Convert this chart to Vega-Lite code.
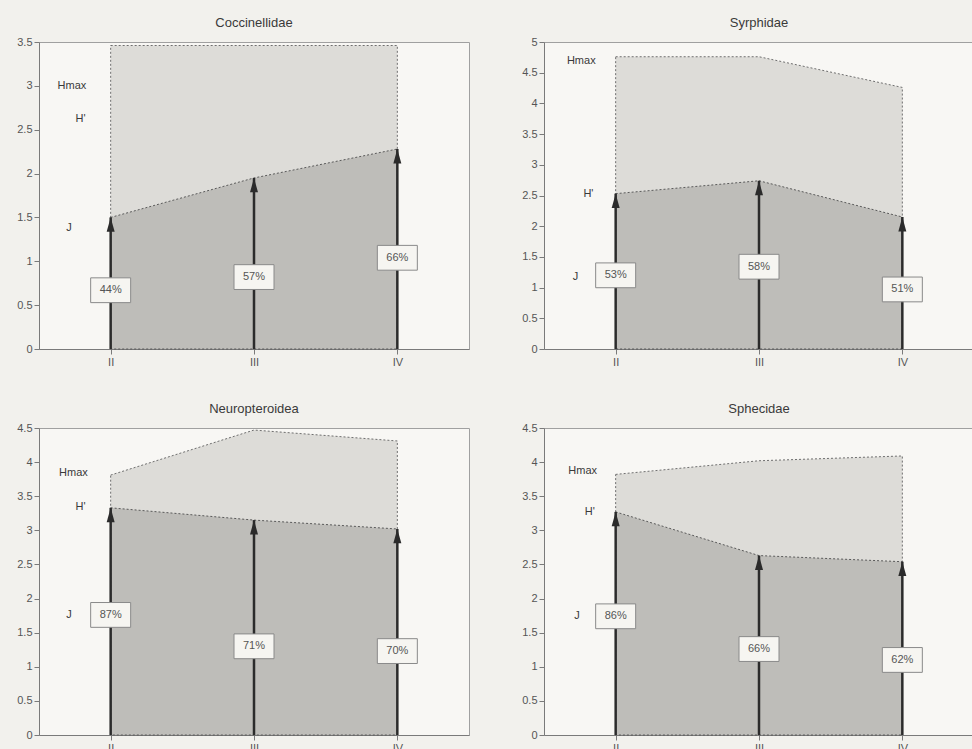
{
  "$schema": "https://vega.github.io/schema/vega-lite/v6.json",
  "background": "#f2f1ed",
  "padding": {"left": 16, "top": 16, "right": 0, "bottom": 0},
  "data": {"values": [
    {"kind": "p", "panel": "Coccinellidae", "x": 2, "hmax": 3.46, "h": 1.50, "jy": 0.67, "jl": "44%"},
    {"kind": "p", "panel": "Coccinellidae", "x": 3, "hmax": 3.46, "h": 1.95, "jy": 0.82, "jl": "57%"},
    {"kind": "p", "panel": "Coccinellidae", "x": 4, "hmax": 3.46, "h": 2.28, "jy": 1.04, "jl": "66%"},
    {"kind": "p", "panel": "Syrphidae", "x": 2, "hmax": 4.76, "h": 2.53, "jy": 1.20, "jl": "53%"},
    {"kind": "p", "panel": "Syrphidae", "x": 3, "hmax": 4.76, "h": 2.74, "jy": 1.34, "jl": "58%"},
    {"kind": "p", "panel": "Syrphidae", "x": 4, "hmax": 4.26, "h": 2.15, "jy": 0.97, "jl": "51%"},
    {"kind": "p", "panel": "Neuropteroidea", "x": 2, "hmax": 3.81, "h": 3.33, "jy": 1.76, "jl": "87%"},
    {"kind": "p", "panel": "Neuropteroidea", "x": 3, "hmax": 4.47, "h": 3.15, "jy": 1.30, "jl": "71%"},
    {"kind": "p", "panel": "Neuropteroidea", "x": 4, "hmax": 4.31, "h": 3.02, "jy": 1.23, "jl": "70%"},
    {"kind": "p", "panel": "Sphecidae", "x": 2, "hmax": 3.82, "h": 3.27, "jy": 1.74, "jl": "86%"},
    {"kind": "p", "panel": "Sphecidae", "x": 3, "hmax": 4.02, "h": 2.63, "jy": 1.26, "jl": "66%"},
    {"kind": "p", "panel": "Sphecidae", "x": 4, "hmax": 4.09, "h": 2.54, "jy": 1.10, "jl": "62%"},
    {"kind": "a", "panel": "Coccinellidae", "ann": "Hmax", "ax": 1.73, "ay": 3.0},
    {"kind": "a", "panel": "Coccinellidae", "ann": "H'", "ax": 1.79, "ay": 2.62},
    {"kind": "a", "panel": "Coccinellidae", "ann": "J", "ax": 1.71, "ay": 1.38},
    {"kind": "a", "panel": "Syrphidae", "ann": "Hmax", "ax": 1.76, "ay": 4.69},
    {"kind": "a", "panel": "Syrphidae", "ann": "H'", "ax": 1.81, "ay": 2.52},
    {"kind": "a", "panel": "Syrphidae", "ann": "J", "ax": 1.72, "ay": 1.18},
    {"kind": "a", "panel": "Neuropteroidea", "ann": "Hmax", "ax": 1.74, "ay": 3.84},
    {"kind": "a", "panel": "Neuropteroidea", "ann": "H'", "ax": 1.79, "ay": 3.34},
    {"kind": "a", "panel": "Neuropteroidea", "ann": "J", "ax": 1.71, "ay": 1.76},
    {"kind": "a", "panel": "Sphecidae", "ann": "Hmax", "ax": 1.77, "ay": 3.87},
    {"kind": "a", "panel": "Sphecidae", "ann": "H'", "ax": 1.82, "ay": 3.27},
    {"kind": "a", "panel": "Sphecidae", "ann": "J", "ax": 1.73, "ay": 1.74}
  ]},
  "facet": {
    "field": "panel",
    "type": "nominal",
    "sort": ["Coccinellidae", "Syrphidae", "Neuropteroidea", "Sphecidae"],
    "header": {"title": null, "labelFontSize": 13, "labelFontWeight": "normal", "labelColor": "#3a3a3a", "labelFont": "Liberation Sans", "labelPadding": 6}
  },
  "columns": 2,
  "spacing": {"row": 34, "column": 51},
  "resolve": {"scale": {"y": "independent"}, "axis": {"x": "independent", "y": "independent"}},
  "spec": {
    "width": 430,
    "height": 307,
    "layer": [
      {
        "transform": [{"filter": "datum.kind === 'p'"}],
        "mark": {"type": "area", "fill": "#dddcd8", "stroke": "#6f6f6f", "strokeWidth": 1, "strokeDash": [2, 2]},
        "encoding": {
          "x": {"field": "x", "type": "quantitative", "title": null,
                "scale": {"domain": [1.5, 4.5], "nice": false, "zero": false},
                "axis": {"values": [2, 3, 4], "labelExpr": "datum.value == 2 ? 'II' : datum.value == 3 ? 'III' : 'IV'"}},
          "y": {"field": "hmax", "type": "quantitative", "title": null,
                "scale": {"zero": true, "nice": true},
                "axis": {"format": "~g"}}
        }
      },
      {
        "transform": [{"filter": "datum.kind === 'p'"}],
        "mark": {"type": "area", "fill": "#bebdb9", "stroke": "#5a5a5a", "strokeWidth": 1, "strokeDash": [2, 2]},
        "encoding": {
          "x": {"field": "x", "type": "quantitative", "title": null},
          "y": {"field": "h", "type": "quantitative", "title": null}
        }
      },
      {
        "transform": [{"filter": "datum.kind === 'p'"}],
        "mark": {"type": "rule", "color": "#2b2b2b", "strokeWidth": 2.5},
        "encoding": {
          "x": {"field": "x", "type": "quantitative", "title": null},
          "y": {"field": "h", "type": "quantitative", "title": null},
          "y2": {"datum": 0}
        }
      },
      {
        "transform": [{"filter": "datum.kind === 'p'"}],
        "mark": {"type": "point", "shape": "M0,0L-0.5,1.8L0.5,1.8Z", "size": 256, "filled": true, "fill": "#2b2b2b", "opacity": 1, "strokeWidth": 0},
        "encoding": {
          "x": {"field": "x", "type": "quantitative", "title": null},
          "y": {"field": "h", "type": "quantitative", "title": null}
        }
      },
      {
        "transform": [{"filter": "datum.kind === 'p'"}],
        "mark": {"type": "point", "shape": "M-1,-0.62L1,-0.62L1,0.62L-1,0.62Z", "size": 1600, "filled": true, "fill": "#f6f5f1", "stroke": "#8a8a8a", "strokeWidth": 1, "opacity": 1},
        "encoding": {
          "x": {"field": "x", "type": "quantitative", "title": null},
          "y": {"field": "jy", "type": "quantitative", "title": null}
        }
      },
      {
        "transform": [{"filter": "datum.kind === 'p'"}],
        "mark": {"type": "text", "fontSize": 11, "color": "#555555", "font": "Liberation Sans"},
        "encoding": {
          "x": {"field": "x", "type": "quantitative", "title": null},
          "y": {"field": "jy", "type": "quantitative", "title": null},
          "text": {"field": "jl"}
        }
      },
      {
        "transform": [{"filter": "datum.kind === 'a'"}],
        "mark": {"type": "text", "fontSize": 11, "color": "#3a3a3a", "font": "Liberation Sans"},
        "encoding": {
          "x": {"field": "ax", "type": "quantitative", "title": null},
          "y": {"field": "ay", "type": "quantitative", "title": null},
          "text": {"field": "ann"}
        }
      }
    ]
  },
  "config": {
    "font": "Liberation Sans",
    "view": {"fill": "#f8f7f4", "stroke": "#a0a0a0"},
    "axis": {"grid": false, "domainColor": "#7a7a7a", "tickColor": "#7a7a7a", "labelColor": "#555555", "labelFont": "Liberation Sans", "labelFontSize": 11, "tickSize": 5, "labelPadding": 2}
  }
}
